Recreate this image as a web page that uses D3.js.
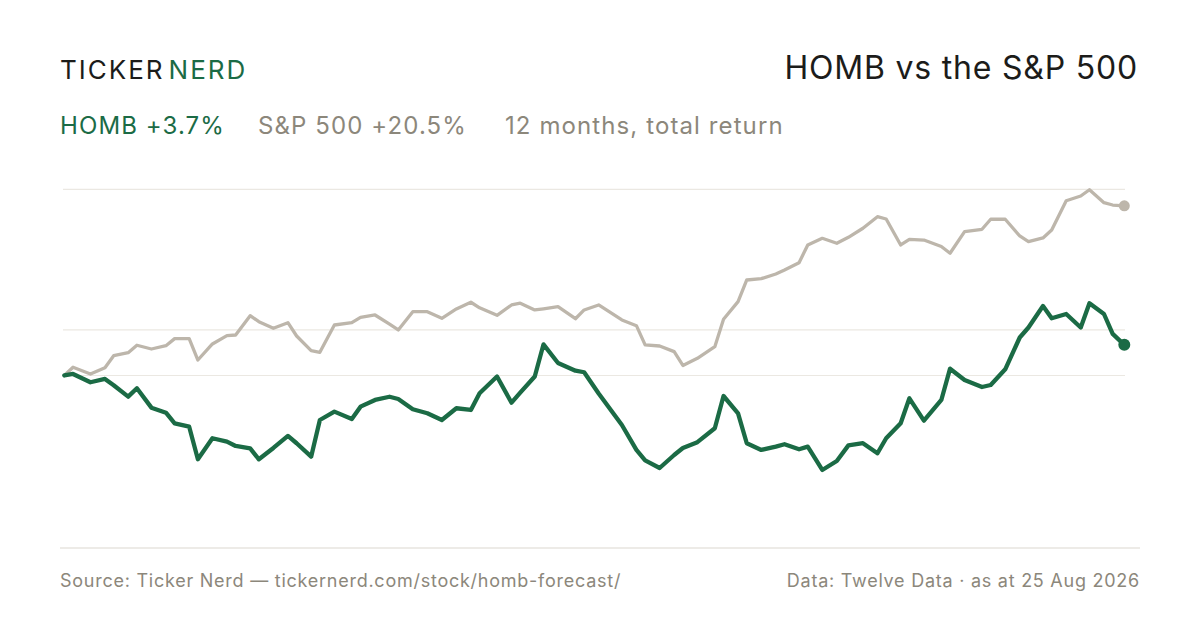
<!DOCTYPE html>
<html>
<head>
<meta charset="utf-8">
<script src="https://cdn.jsdelivr.net/npm/d3@7"></script>
<style>
  html, body { margin: 0; padding: 0; background: #fff; }
  svg { display: block; font-family: Inter, "Noto Sans", sans-serif; }
</style>
</head>
<body>
<svg id="stage" width="1200" height="630"></svg>
<script>
var svg = d3.select("#stage");

// data: calendar days since 25 Aug 2025, % total return
var days = [0, 3, 9, 14, 17, 22, 25, 30, 35, 38, 43, 46, 51, 56, 59, 64, 67, 72, 77, 80,
            85, 88, 93, 99, 102, 107, 112, 115, 120, 125, 130, 135, 140, 143, 149, 154, 157, 162, 165, 170,
            176, 179, 184, 192, 197, 200, 205, 210, 213, 218, 224, 227, 232, 235, 240, 245, 248, 253, 256, 261,
            266, 270, 275, 280, 283, 288, 291, 296, 302, 305, 310, 316, 319, 324, 329, 332, 337, 340, 345, 350,
            353, 358, 361, 365];

var spxReturn = [0, 0.99, 0.18, 0.94, 2.39, 2.76, 3.65, 3.20, 3.60, 4.45, 4.45, 1.87, 3.81, 4.81, 4.89, 7.23, 6.50, 5.70, 6.38, 4.77,
                 3.00, 2.80, 6.10, 6.38, 7.03, 7.31, 6.20, 5.50, 7.71, 7.71, 6.91, 8.04, 8.85, 8.18, 7.27, 8.52, 8.73, 7.92, 8.06, 8.31,
                 6.86, 7.92, 8.52, 6.71, 6.02, 3.69, 3.56, 2.88, 1.21, 2.08, 3.48, 6.79, 8.92, 11.54, 11.70, 12.27, 12.75, 13.63, 15.77, 16.58,
                 15.98, 16.70, 17.79, 19.19, 18.91, 15.77, 16.46, 16.37, 15.59, 14.77, 17.38, 17.67, 18.88, 18.88, 16.86, 16.17, 16.62, 17.58, 21.12, 21.69,
                 22.45, 20.88, 20.60, 20.5];

var hombReturn = [0, 0.18, -0.82, -0.42, -1.18, -2.56, -1.55, -3.89, -4.50, -5.78, -6.19, -10.13, -7.59, -8.00, -8.52, -8.80, -10.13, -8.76, -7.31, -8.19,
                  -9.81, -5.38, -4.37, -5.26, -3.77, -2.96, -2.57, -2.84, -4.08, -4.57, -5.38, -3.96, -4.17, -2.15, -0.12, -3.29, -2.08, -0.12, 3.75, 1.51,
                  0.58, 0.39, -2.18, -5.98, -9.00, -10.27, -11.18, -9.61, -8.76, -8.06, -6.38, -2.48, -4.57, -8.19, -9.00, -8.60, -8.31, -8.92, -8.60, -11.42,
                  -10.33, -8.45, -8.19, -9.40, -7.59, -5.78, -2.76, -5.46, -2.96, 0.82, -0.54, -1.39, -1.15, 0.75, 4.59, 5.80, 8.40, 6.91, 7.43, 5.80,
                  8.73, 7.43, 5.02, 3.7];

var gridValues = [0, 5.5, 22.5];
var yDomain = [-20.85, 22.5];

var colors = { homb: "#1b6b45", spx: "#bdb6ab", ink: "#1c1c1a", muted: "#8c877b", grid: "#ebe8e2", axis: "#dcd8cf" };

var x = d3.scaleLinear().domain([0, 365]).range([64.3, 1124.3]);
var y = d3.scaleLinear().domain(yDomain).range([548, 189.3]);

////////////////////////////// HEADER

var logo = svg.append("text")
    .attr("x", 60).attr("y", 79)
    .attr("font-size", 26)
    .attr("letter-spacing", 2);
logo.append("tspan").attr("fill", colors.ink).text("TICKER");
logo.append("tspan").attr("fill", colors.homb).attr("dx", 4).text("NERD");

svg.append("text")
    .attr("x", 1138).attr("y", 79)
    .attr("text-anchor", "end")
    .attr("font-size", 32)
    .attr("letter-spacing", 0.8)
    .attr("fill", colors.ink)
    .text("HOMB vs the S&P 500");

var subtitle = [
  { x: 60,  text: "HOMB +3.7%",              color: colors.homb },
  { x: 258, text: "S&P 500 +20.5%",          color: colors.muted },
  { x: 505, text: "12 months, total return", color: colors.muted }
];

svg.selectAll(".sub")
  .data(subtitle)
  .enter().append("text")
    .attr("class", "sub")
    .attr("x", function(d){ return d.x; })
    .attr("y", 134)
    .attr("font-size", 24)
    .attr("letter-spacing", 1.1)
    .attr("fill", function(d){ return d.color; })
    .text(function(d){ return d.text; });

////////////////////////////// GRID

svg.selectAll(".grid")
  .data(gridValues)
  .enter().append("line")
    .attr("class", "grid")
    .attr("x1", 63).attr("x2", 1125)
    .attr("y1", function(d){ return y(d); })
    .attr("y2", function(d){ return y(d); })
    .attr("stroke", colors.grid)
    .attr("stroke-width", 1.2);

svg.append("line")
    .attr("x1", 60).attr("x2", 1140)
    .attr("y1", y(yDomain[0])).attr("y2", y(yDomain[0]))
    .attr("stroke", colors.axis)
    .attr("stroke-width", 1.2);

////////////////////////////// LINES

var series = [
  { key: "spx",  values: spxReturn,  color: colors.spx,  width: 3.3, r: 5.5 },
  { key: "homb", values: hombReturn, color: colors.homb, width: 4.3, r: 6 }
];

var line = d3.line()
    .x(function(d, i){ return x(days[i]); })
    .y(function(d){ return y(d); });

series.forEach(function(s){
  svg.append("path")
      .datum(s.values)
      .attr("fill", "none")
      .attr("stroke", s.color)
      .attr("stroke-width", s.width)
      .attr("stroke-linejoin", "round")
      .attr("stroke-linecap", "round")
      .attr("d", line);

  var last = s.values.length - 1;
  svg.append("circle")
      .attr("cx", x(days[last]))
      .attr("cy", y(s.values[last]))
      .attr("r", s.r)
      .attr("fill", s.color);
});

////////////////////////////// FOOTER

svg.append("text")
    .attr("x", 60).attr("y", 587)
    .attr("font-size", 18)
    .attr("letter-spacing", 0.75)
    .attr("fill", colors.muted)
    .text("Source: Ticker Nerd \u2014 tickernerd.com/stock/homb-forecast/");

svg.append("text")
    .attr("x", 1140).attr("y", 587)
    .attr("text-anchor", "end")
    .attr("font-size", 18)
    .attr("letter-spacing", 0.75)
    .attr("fill", colors.muted)
    .text("Data: Twelve Data \u00b7 as at 25 Aug 2026");
</script>
</body>
</html>
